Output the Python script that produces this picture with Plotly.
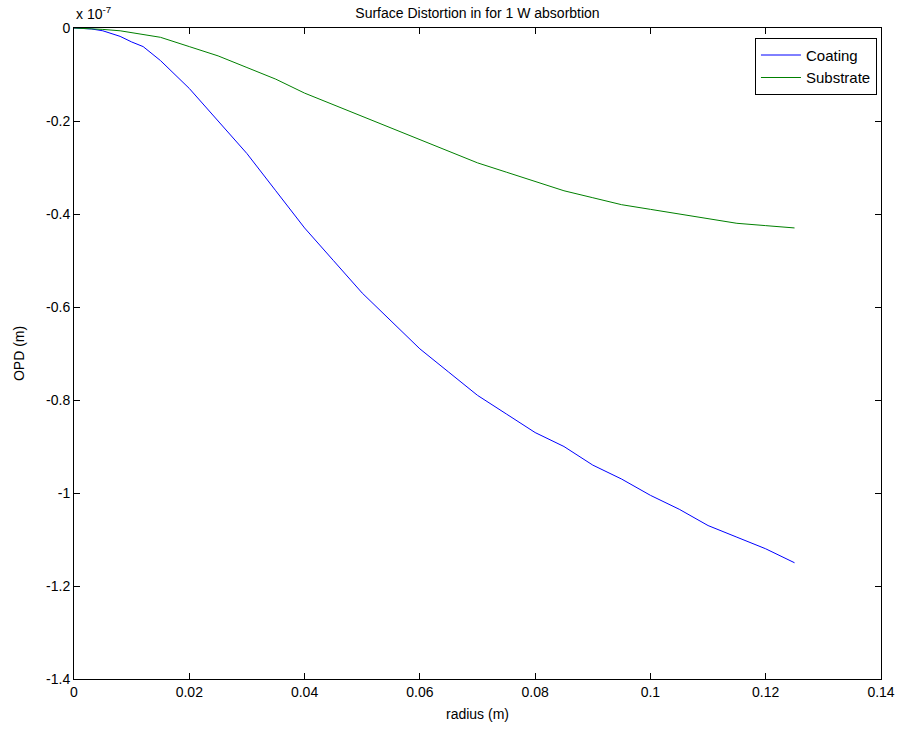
import plotly.graph_objects as go

# Radius samples (m)
radius = [0.0, 0.003, 0.005, 0.008, 0.010, 0.012, 0.015, 0.020, 0.025, 0.030,
          0.035, 0.040, 0.045, 0.050, 0.055, 0.060, 0.065, 0.070, 0.075,
          0.080, 0.085, 0.090, 0.095, 0.100, 0.105, 0.110, 0.115, 0.120, 0.125]

# Optical path difference, in units of 1e-7 m
coating = [0.0, -0.002, -0.006, -0.018, -0.030, -0.040, -0.070, -0.130, -0.200,
           -0.270, -0.350, -0.430, -0.500, -0.570, -0.630, -0.690, -0.740,
           -0.790, -0.830, -0.870, -0.900, -0.940, -0.970, -1.005, -1.035,
           -1.070, -1.095, -1.120, -1.150]
substrate = [0.0, -0.001, -0.003, -0.006, -0.010, -0.013, -0.020, -0.040, -0.060,
             -0.085, -0.110, -0.140, -0.165, -0.190, -0.215, -0.240, -0.265,
             -0.290, -0.310, -0.330, -0.350, -0.365, -0.380, -0.390, -0.400,
             -0.410, -0.420, -0.425, -0.430]

x_ticks = [0, 0.02, 0.04, 0.06, 0.08, 0.1, 0.12, 0.14]
y_ticks = [0, -0.2, -0.4, -0.6, -0.8, -1, -1.2, -1.4]

FONT = "Liberation Sans, Arial, Helvetica, sans-serif"

fig = go.Figure()
fig.add_trace(go.Scatter(x=radius, y=coating, mode="lines", name="Coating",
                         line=dict(color="#0000FF", width=1)))
fig.add_trace(go.Scatter(x=radius, y=substrate, mode="lines", name="Substrate",
                         line=dict(color="#008000", width=1)))

axis_common = dict(showgrid=False, zeroline=False, showline=True,
                   linecolor="black", linewidth=1, mirror="ticks",
                   ticks="inside", ticklen=6, tickcolor="black",
                   tickfont=dict(family=FONT, size=14, color="black"))

fig.update_xaxes(range=[0, 0.14], tickvals=x_ticks,
                 ticktext=[f"{v:g}" for v in x_ticks],
                 title=dict(text="radius (m)",
                            font=dict(family=FONT, size=14, color="black"),
                            standoff=10),
                 **axis_common)
fig.update_yaxes(range=[-1.4, 0], tickvals=y_ticks,
                 ticktext=[f"{v:g}" for v in y_ticks],
                 title=dict(text="OPD (m)",
                            font=dict(family=FONT, size=14, color="black"),
                            standoff=18),
                 **axis_common)

fig.add_annotation(x=0, y=1, xref="paper", yref="paper", xanchor="left",
                   yanchor="bottom", yshift=4, showarrow=False,
                   text="x 10<sup>-7</sup>",
                   font=dict(family=FONT, size=14, color="black"))

fig.update_layout(
    width=907, height=732,
    margin=dict(l=74, r=22, t=28, b=52),
    paper_bgcolor="white", plot_bgcolor="white",
    title=dict(text="Surface Distortion in for 1 W absorbtion",
               x=0.5, xref="paper", xanchor="center",
               y=1, yref="paper", yanchor="bottom", pad=dict(b=10),
               font=dict(family=FONT, size=14, color="black")),
    legend=dict(x=0.995, y=0.985, xanchor="right", yanchor="top",
                bordercolor="black", borderwidth=1, bgcolor="white",
                font=dict(family=FONT, size=15, color="black"),
                tracegroupgap=0, itemwidth=40),
    showlegend=True,
)

fig.write_html("out.html")
